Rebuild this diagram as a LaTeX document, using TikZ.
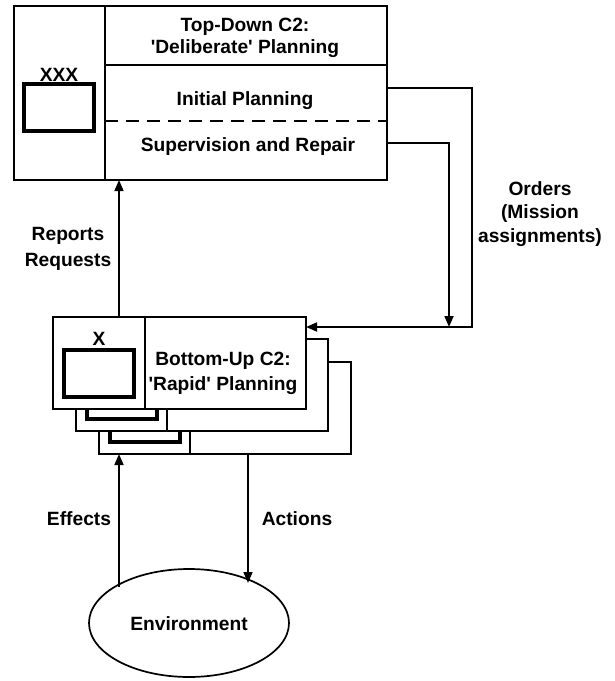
\documentclass[tikz,border=0pt]{standalone}
\usepackage{fontspec}
\setmainfont{Liberation Sans}
\usetikzlibrary{arrows.meta,shapes.geometric}
\begin{document}
\begin{tikzpicture}[x=1pt,y=-1pt,
  line width=1.7pt,
  lbl/.style={font=\bfseries\fontsize{19.2}{21}\selectfont, inner sep=0pt, anchor=base},
  mlbl/.style={font=\bfseries\fontsize{19.2}{#1}\selectfont, inner sep=0pt, align=center},
  thickbox/.style={draw, line width=3.4pt},
  whitebox/.style={draw, fill=white},
  arr/.style={-{Triangle[length=11pt,width=9pt]}},
  dashline/.style={dash pattern=on 13pt off 8pt}
]
\useasboundingbox (0,0) rectangle (614,681);

% ---------- Top-down box ----------
\draw (14,6) rectangle (387,180);
\draw (105,6) -- (105,180);
\draw (105,65) -- (387,65);
\draw[dashline] (105,121) -- (387,121);
\draw[thickbox] (24,84) rectangle (94,131);
\node[lbl] (xxx) at (59,81) {XXX};
\node[mlbl=21.6] (tdtitle) at (245,38) {Top-Down C2:\\\textquotesingle Deliberate\textquotesingle{} Planning};
\node[lbl] (init) at (245,105) {Initial Planning};
\node[lbl] (sup) at (248,151) {Supervision and Repair};
\coordinate (initR) at (387,88);
\coordinate (supR) at (387,143);
\coordinate (tdB) at (119,180);

% ---------- Bottom-up boxes (stack) ----------
\draw[whitebox] (99,362) rectangle (351,454);
\draw (190,362) -- (190,454);
\draw[thickbox] (110,395) rectangle (180,442);
\draw[whitebox] (76,339) rectangle (328,431);
\draw (167,339) -- (167,431);
\draw[thickbox, fill=white] (87,372) rectangle (157,419);
\draw[whitebox] (53,317) rectangle (306,409);
\draw (145,317) -- (145,409);
\draw[thickbox] (64,350) rectangle (134,397);
\node[lbl] (x) at (99,345.7) {X};
\node[mlbl=24.7] (butitle) at (223,373) {Bottom-Up C2:\\\textquotesingle Rapid\textquotesingle{} Planning};
\coordinate (buT) at (119,317);
\coordinate (buR) at (306,327);
\coordinate (bu3B) at (119,454);
\coordinate (bu3Bact) at (248,454);

% ---------- Environment ----------
\node[draw, ellipse, minimum width=200, minimum height=108, inner sep=0pt] (env) at (189,623) {};
\node[lbl] (envtxt) at (189,630) {Environment};
\coordinate (envL) at (119,587);
\coordinate (envR) at (248,583);

% ---------- Connectors ----------
\coordinate (oc1) at (472,88);
\coordinate (oc2) at (472,327);
\coordinate (sc1) at (449,143);
\coordinate (sc2) at (449,327);
\draw[arr] (initR) -- (oc1) -- (oc2) -- (buR);
\draw[arr] (supR) -- (sc1) -- (sc2);
\draw[arr] (buT) -- (tdB);
\draw[arr] (envL) -- (bu3B);
\draw[arr] (bu3Bact) -- (envR);

% ---------- Labels ----------
\node[mlbl=23.5] (orders) at (540,214) {Orders\\(Mission\\assignments)};
\node[mlbl=26.3] (reports) at (68,249) {Reports\\Requests};
\node[lbl] (effects) at (79,525) {Effects};
\node[lbl] (actions) at (297,525) {Actions};
\end{tikzpicture}
\end{document}
